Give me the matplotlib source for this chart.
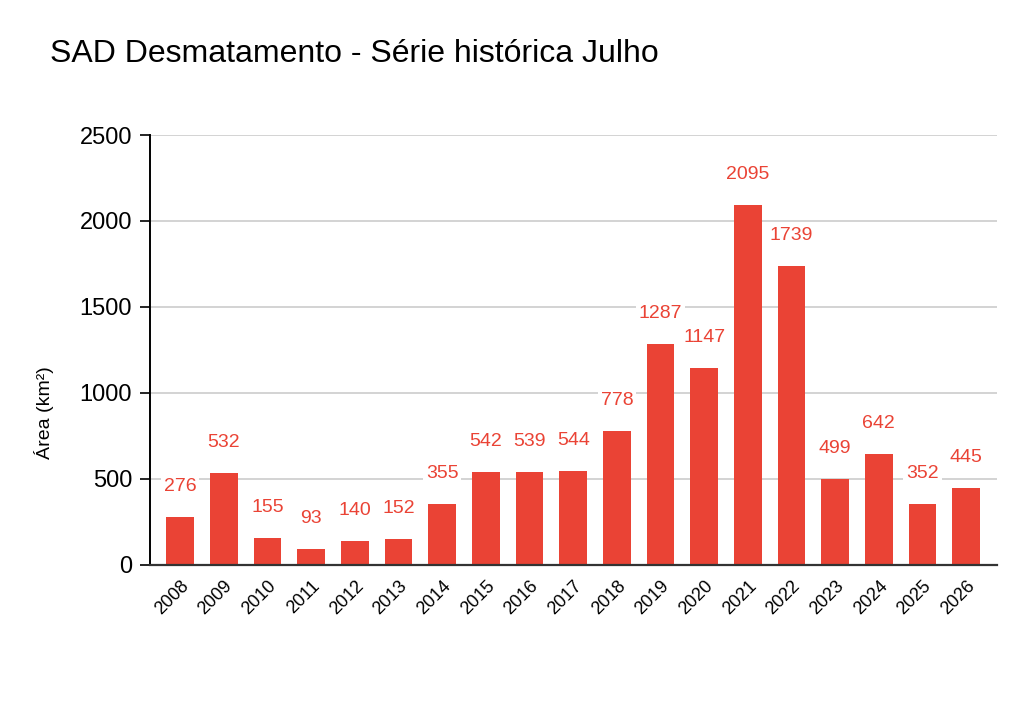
import matplotlib
matplotlib.use("Agg")
from matplotlib import pyplot as plt

plt.rcParams["font.family"] = ["Liberation Sans", "DejaVu Sans"]

years = [str(y) for y in range(2008, 2027)]
area_km2 = [276, 532, 155, 93, 140, 152, 355, 542, 539, 544, 778,
            1287, 1147, 2095, 1739, 499, 642, 352, 445]

bar_color = "#ea4335"

fig = plt.figure(figsize=(10.28, 7.26), dpi=100)
ax = fig.add_axes([0.146, 0.222, 0.824, 0.592])

x = list(range(len(years)))
ax.bar(x, area_km2, width=0.63, color=bar_color, zorder=2)

# value labels above bars, white box covers the grid lines
for xi, v in zip(x, area_km2):
    ax.annotate(str(v), (xi, v), xytext=(0, 22), textcoords="offset points",
                ha="center", va="center", fontsize=14, color=bar_color,
                bbox=dict(boxstyle="square,pad=0.15", fc="white", ec="none"),
                zorder=3)

ax.set_xlim(-0.69, len(years) - 1 + 0.71)
ax.set_ylim(0, 2500)
ax.set_yticks(range(0, 2501, 500))
ax.set_xticks(x)
ax.set_xticklabels(years, rotation=45, ha="right", rotation_mode="anchor", fontsize=13)
ax.tick_params(axis="y", labelsize=17, length=7, width=1.2, color="black", pad=6)
ax.tick_params(axis="x", length=0, pad=9)

ax.grid(axis="y", color="#cccccc", linewidth=1.2, zorder=0)
ax.set_axisbelow(True)
for s in ("top", "right"):
    ax.spines[s].set_visible(False)
ax.spines["left"].set_color("black")
ax.spines["left"].set_linewidth(1.4)
ax.spines["bottom"].set_color("#333333")
ax.spines["bottom"].set_linewidth(1.6)
ax.spines["bottom"].set_zorder(4)

ax.set_ylabel("Área (km²)", fontsize=14)
ax.yaxis.set_label_coords(-0.114, 0.353)

fig.text(0.049, 0.925, "SAD Desmatamento - Série histórica Julho", fontsize=23,
         ha="left", va="center")

fig.savefig("out.png", dpi=100)
